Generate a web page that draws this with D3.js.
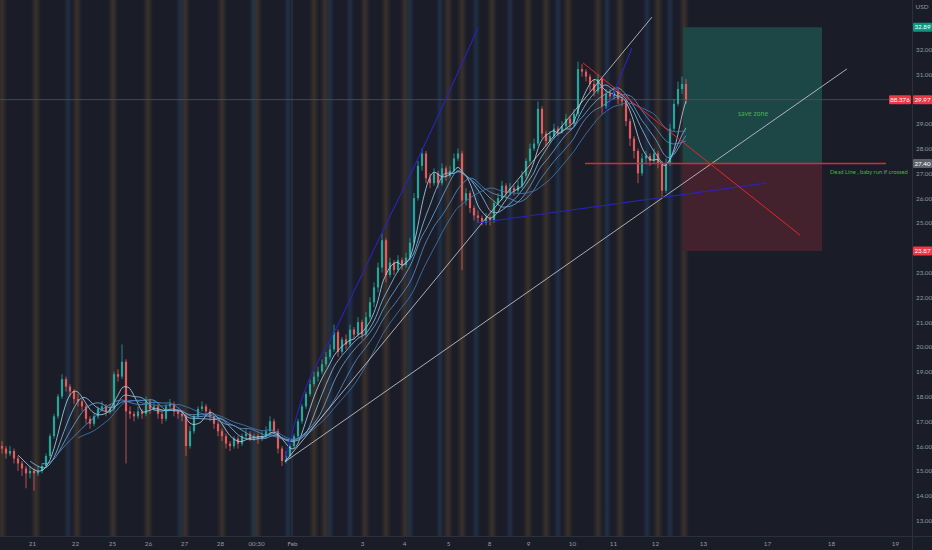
<!DOCTYPE html>
<html><head><meta charset="utf-8">
<script src="https://cdn.jsdelivr.net/npm/d3@7"></script>
<style>html,body{margin:0;padding:0;background:#1a1d28;overflow:hidden}svg{display:block;font-family:Lato,"Liberation Sans",sans-serif}</style>
</head><body><svg id="c" width="932" height="550"></svg>
<script>
// ---------- DATA ----------
const firstOpen = 16.0;
const closes = [15.9,15.7,15.8,15.5,15.3,15.1,14.9,15.0,14.9,15.0,
15.2,15.6,16.4,17.2,18.0,18.7,18.4,18.2,17.9,17.8,
17.6,17.1,16.9,17.2,17.5,17.6,17.4,17.5,18.9,18.8,
19.4,17.4,17.3,17.2,17.4,17.3,17.8,17.5,17.6,17.3,
17.1,17.6,17.7,17.4,17.3,17.2,16.0,16.6,17.2,17.5,
17.6,17.4,17.2,16.9,16.6,16.4,16.1,16.0,16.3,16.1,
16.4,16.5,16.3,16.4,16.3,16.4,16.6,17.0,16.6,15.9,
15.4,15.6,16.0,16.4,17.0,17.6,18.1,18.5,18.8,19.0,
19.3,19.6,19.9,20.6,19.8,20.3,20.1,20.7,20.5,21.0,
20.5,21.2,21.8,22.4,23.2,24.3,22.9,23.4,23.1,23.5,
23.3,23.6,24.2,26.0,27.3,27.8,26.8,26.6,27.0,26.6,
27.2,26.9,27.1,27.6,27.8,25.9,26.2,25.6,25.3,25.2,
25.0,25.2,25.1,25.8,26.0,26.5,26.2,26.4,26.3,26.5,
26.9,27.5,28.0,28.2,29.6,28.6,28.3,28.5,28.8,28.7,
28.9,29.2,29.0,29.4,31.2,31.1,30.9,30.6,30.3,30.8,
29.7,30.2,30.1,30.3,30.0,29.9,29.1,28.4,27.9,27.0,
27.6,27.7,27.5,27.8,27.4,26.3,27.4,28.8,29.8,30.4,
30.6,29.97];
const highs = [16.2,16.0,16.0,15.9,15.6,15.4,15.2,15.2,15.1,15.2,
15.3,15.7,16.5,17.3,18.1,18.9,18.8,18.5,18.3,18.1,
17.9,17.7,17.2,17.3,17.6,17.8,17.7,17.7,19.0,19.1,
20.1,19.5,17.6,17.4,17.6,17.5,18.0,17.9,17.8,17.7,
17.4,17.7,17.9,17.8,17.5,17.4,17.3,16.8,17.3,17.6,
17.8,17.7,17.5,17.3,17.0,16.7,16.5,16.2,16.4,16.4,
16.5,16.7,16.6,16.5,16.5,16.6,16.8,17.2,17.1,16.7,
16.0,15.8,16.1,16.5,17.1,17.7,18.2,18.7,19.0,19.2,
19.5,19.8,20.1,20.9,20.7,20.4,20.5,20.9,20.8,21.2,
21.1,21.4,22.0,22.6,23.4,24.6,24.4,23.6,23.5,23.7,
23.6,23.8,24.4,26.2,27.5,28.0,27.9,27.0,27.2,27.1,
27.4,27.3,27.3,27.8,28.0,27.9,26.4,26.3,25.7,25.5,
25.3,25.4,25.3,25.9,26.2,26.7,26.6,26.6,26.5,26.7,
27.1,27.6,28.2,28.4,29.9,29.7,28.7,28.7,29.0,28.9,
29.1,29.4,29.3,29.6,31.5,31.4,31.2,31.0,30.8,31.0,
30.9,30.4,30.4,30.5,30.4,30.1,30.0,29.2,28.5,28.0,
27.8,27.9,27.8,28.0,27.9,27.5,27.6,29.0,30.0,30.7,
30.9,30.8];
const lows = [15.7,15.5,15.6,15.3,15.0,14.8,14.3,14.7,14.2,14.8,
14.9,15.1,15.5,16.3,17.1,17.9,18.2,18.0,17.7,17.6,
17.4,16.9,16.7,16.8,17.1,17.4,17.2,17.3,17.4,18.6,
18.7,15.3,17.1,17.0,17.1,17.1,17.2,17.3,17.4,17.1,
16.9,17.0,17.5,17.2,17.1,17.0,15.6,15.9,16.5,17.1,
17.4,17.2,17.0,16.7,16.4,16.2,15.9,15.8,15.9,15.9,
16.0,16.3,16.2,16.2,16.1,16.2,16.3,16.5,16.5,15.7,
15.2,15.3,15.5,15.9,16.3,16.9,17.5,18.0,18.4,18.6,
18.9,19.2,19.5,19.8,19.6,19.7,19.9,20.0,20.3,20.4,
20.3,20.4,21.1,21.6,22.2,23.0,22.6,22.8,22.9,23.0,
23.1,23.2,23.5,24.1,25.9,27.1,26.6,26.4,26.5,26.4,
26.5,26.7,26.8,27.0,27.5,23.1,25.7,25.4,25.1,25.0,
24.9,24.9,24.9,25.0,25.7,25.9,26.0,26.1,26.1,26.2,
26.4,26.8,27.4,27.9,28.1,28.4,28.1,28.2,28.4,28.5,
28.6,28.8,28.8,28.9,29.3,30.9,30.7,30.3,30.1,30.2,
29.4,29.6,29.9,30.0,29.8,29.7,28.9,28.1,27.6,26.6,
26.9,27.4,27.3,27.4,27.2,26.0,26.2,27.3,28.7,29.7,
30.2,29.8];

const xTickLabels = ["21","22","25","26","27","28","00:30","Feb","3","4","5","8","9","10","11","12","13","17","18","19"];
const xTickBars   = [7.5,18.25,27.5,36.5,45.5,54.5,63.5,72.5,90,100.5,111.5,121.75,131.5,142.5,152.75,163.25,175.25,191.25,207.25,223.25];
const yTicks = [13,14,15,16,17,18,19,20,21,22,23,25,26,27,28,29,31,32];

const orangeStripes = [0,8.5,18.75,27.75,36.5,45.75,55,63.75,78,80.75,90.75,96,100.75,111.5,115,122.5,131.5,136,141.5,149,154.5,164,170.5];
const blueStripes   = [16.5,44.5,62.75,71.5,82,87,102,109.5,118.5,127,139,151.25,161.25,167];

const maPeriods = [5,8,11,15,20];
const maColors  = ["#a9d6f2","#86c0ea","#69a7dc","#5790c8","#4479b3"];

// drawings: [bar, price]
const whiteLines = [[[70.75,15.37],[162.5,33.3]], [[70.75,15.37],[211.25,31.21]]];
const blueArc = [[70.75,15.45],[74.5,17.67],[83.75,20.81],[94.5,24.44],[106.25,28.35],[119,32.86]];
const blueLines = [[[119,25.0],[191.25,26.61]], [[151,29.47],[157.5,32.05]]];
const redHLine = [[145.75,27.4],[221,27.4]];
const redDiag = [[145.25,31.45],[199.5,24.51]];
const position = {x0:170.25, x1:205, target:32.89, entry:27.40, stop:23.87};
const notes = [{bar:184, price:29.31, text:"save zone", size:7}, {bar:207, price:26.97, text:"Dead Line , baby run if crossed", size:5.8}];
const lastPrice = 29.97;
const indicatorLabel = "88.376";

// ---------- CHART ----------
const W=932,H=550,PW=912,PH=536;
const svg=d3.select("#c");
const x=d3.scaleLinear().domain([-0.5,227.5]).range([0,PW]);
const y=d3.scaleLinear().domain([13,32]).range([520.5,49.3]);

svg.append("rect").attr("width",W).attr("height",H).attr("fill","#1a1d28");
const defs=svg.append("defs");
function grad(id,col,op){
  const g=defs.append("linearGradient").attr("id",id).attr("x1",0).attr("x2",1).attr("y1",0).attr("y2",0);
  g.append("stop").attr("offset",0).attr("stop-color",col).attr("stop-opacity",0);
  g.append("stop").attr("offset",0.5).attr("stop-color",col).attr("stop-opacity",op);
  g.append("stop").attr("offset",1).attr("stop-color",col).attr("stop-opacity",0);
}
grad("go","#6e5230",0.38);grad("gb","#2b4f7a",0.38);
defs.append("clipPath").attr("id","plot").append("rect").attr("width",PW).attr("height",PH);
const P=svg.append("g").attr("clip-path","url(#plot)");

P.selectAll(".so").data(orangeStripes).join("rect").attr("x",d=>x(d)-5).attr("width",10).attr("y",0).attr("height",PH).attr("fill","url(#go)");
P.selectAll(".sb").data(blueStripes).join("rect").attr("x",d=>x(d)-4).attr("width",8).attr("y",0).attr("height",PH).attr("fill","url(#gb)");

// Feb separator
P.append("line").attr("x1",x(72.5)).attr("x2",x(72.5)).attr("y1",0).attr("y2",PH).attr("stroke","#333744").attr("stroke-width",1);

// position tool
P.append("rect").attr("x",x(position.x0)).attr("width",x(position.x1)-x(position.x0))
 .attr("y",y(position.target)).attr("height",y(position.entry)-y(position.target)).attr("fill","#1d4646");
P.append("rect").attr("x",x(position.x0)).attr("width",x(position.x1)-x(position.x0))
 .attr("y",y(position.entry)).attr("height",y(position.stop)-y(position.entry)).attr("fill","#44222d");

// last price line
P.append("line").attr("x1",0).attr("x2",PW).attr("y1",y(lastPrice)).attr("y2",y(lastPrice)).attr("stroke","#4e5160").attr("stroke-width",0.8);

// candles
const data=closes.map((c,i)=>({i,o:i?closes[i-1]:firstOpen,c,h:highs[i],l:lows[i]}));
const up="#26a69a",dn="#e35b5b";
const cg=P.append("g");
cg.selectAll("line").data(data).join("line").attr("x1",d=>x(d.i)).attr("x2",d=>x(d.i)).attr("y1",d=>y(d.h)).attr("y2",d=>y(d.l))
 .attr("stroke",d=>d.c>=d.o?up:dn).attr("stroke-width",0.8);
cg.selectAll("rect").data(data).join("rect").attr("x",d=>x(d.i)-1.1).attr("width",2.2)
 .attr("y",d=>y(Math.max(d.o,d.c))).attr("height",d=>Math.max(0.8,Math.abs(y(d.o)-y(d.c)))).attr("fill",d=>d.c>=d.o?up:dn);

// moving averages
const line=d3.line().x(d=>x(d[0])).y(d=>y(d[1])).curve(d3.curveBasis);
maPeriods.forEach((p,k)=>{
  const pts=[];
  for(let i=p-1;i<closes.length;i++){pts.push([i,d3.mean(closes.slice(i-p+1,i+1))]);}
  P.append("path").attr("d",line(pts)).attr("fill","none").attr("stroke",maColors[k]).attr("stroke-width",0.9).attr("opacity",0.9);
});

// drawings
const sl=d3.line().x(d=>x(d[0])).y(d=>y(d[1]));
whiteLines.forEach(l=>P.append("path").attr("d",sl(l)).attr("stroke","#d0d0d6").attr("stroke-width",0.8).attr("fill","none"));
P.append("path").attr("d",d3.line().x(d=>x(d[0])).y(d=>y(d[1])).curve(d3.curveMonotoneX)(blueArc)).attr("stroke","#2a23b8").attr("stroke-width",1.1).attr("fill","none");
blueLines.forEach(l=>P.append("path").attr("d",sl(l)).attr("stroke","#2a23b8").attr("stroke-width",1.1).attr("fill","none"));
P.append("path").attr("d",sl(redHLine)).attr("stroke","#e3262f").attr("stroke-width",1.5).attr("fill","none");
P.append("path").attr("d",sl(redDiag)).attr("stroke","#e3262f").attr("stroke-width",1).attr("fill","none");
notes.forEach(n=>P.append("text").attr("x",x(n.bar)).attr("y",y(n.price)).attr("fill","#4caf50").attr("font-size",n.size).text(n.text));

// axes
svg.append("line").attr("x1",PW+0.5).attr("x2",PW+0.5).attr("y1",0).attr("y2",H).attr("stroke","#2c303c");
svg.append("line").attr("x1",0).attr("x2",W).attr("y1",PH+0.5).attr("y2",PH+0.5).attr("stroke","#2c303c");
const ya=svg.append("g").attr("transform",`translate(${PW},0)`).call(d3.axisRight(y).tickValues(yTicks).tickFormat(d3.format(".2f")).tickSize(0).tickPadding(4));
ya.select(".domain").remove();
ya.selectAll("text").attr("fill","#9598a1").attr("font-size",6.3).attr("font-family","Lato,sans-serif");
svg.append("text").attr("x",922).attr("y",9).attr("text-anchor","middle").attr("fill","#9598a1").attr("font-size",6.3).text("USD");
const xa=svg.append("g").attr("transform",`translate(0,${PH})`).call(d3.axisBottom(x).tickValues(xTickBars).tickFormat((d,i)=>xTickLabels[i]).tickSize(0).tickPadding(6));
xa.select(".domain").remove();
xa.selectAll("text").attr("fill","#9598a1").attr("font-size",6.3).attr("font-family","Lato,sans-serif");

// price labels
function plabel(px,v,txt,col,w){
  const yy=y(v);
  svg.append("rect").attr("x",px).attr("y",yy-4.5).attr("width",w).attr("height",9).attr("fill",col).attr("rx",1);
  svg.append("text").attr("x",px+w/2).attr("y",yy+2.2).attr("text-anchor","middle").attr("fill","#fff").attr("font-size",6.3).text(txt);
}
plabel(913,position.target,position.target.toFixed(2),"#089981",19);
plabel(913,position.entry,position.entry.toFixed(2),"#5d606b",19);
plabel(913,position.stop,position.stop.toFixed(2),"#f23645",19);
plabel(913,lastPrice,lastPrice.toFixed(2),"#f23645",19);
plabel(889,lastPrice,indicatorLabel,"#f23645",22);
</script></body></html>
